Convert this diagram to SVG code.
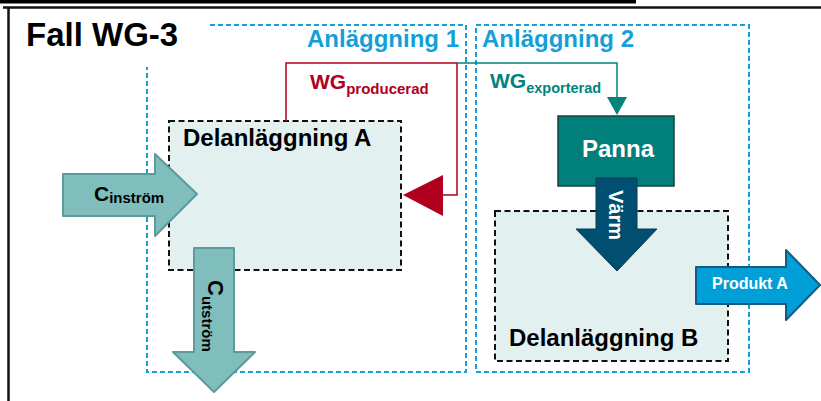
<svg xmlns="http://www.w3.org/2000/svg" width="821" height="401" viewBox="0 0 821 401">
  <style>
    text { font-family: "Liberation Sans", Arial, sans-serif; font-weight: bold; }
    .site { fill: none; stroke: #14a0d6; stroke-width: 2; stroke-dasharray: 5 3; }
    .unit { fill: #e3f0f0; stroke: #111; stroke-width: 2; stroke-dasharray: 6 3.5; }
    .carbon { fill: #80bebd; stroke: #5c9b99; stroke-width: 2; stroke-linejoin: round; }
    .siteLabel { fill: #14a0d6; font-size: 24px; }
    .unitLabel { fill: #000; font-size: 24px; }
  </style>

  <!-- frame -->
  <rect x="0" y="0" width="636" height="3.5" fill="#000"/>
  <line x1="3" y1="7.5" x2="821" y2="7.5" stroke="#111" stroke-width="2.5"/>
  <line x1="8.5" y1="7" x2="8.5" y2="401" stroke="#111" stroke-width="2.5"/>

  <text id="title" x="26" y="46" font-size="33" fill="#000">Fall WG-3</text>

  <!-- plant boundaries -->
  <g id="anlaggning1">
    <path class="site" d="M210,25 H466 V372 H147 V67"/>
    <text class="siteLabel" x="307" y="47">Anläggning 1</text>
  </g>
  <g id="anlaggning2">
    <rect class="site" x="476" y="25" width="273" height="347"/>
    <text class="siteLabel" x="482" y="47">Anläggning 2</text>
  </g>

  <!-- sub-units -->
  <g id="delanlaggningA">
    <rect class="unit" x="169" y="121" width="232" height="149"/>
    <text class="unitLabel" x="183" y="146">Delanläggning A</text>
  </g>
  <g id="delanlaggningB">
    <rect class="unit" x="495" y="211" width="233" height="150"/>
    <text class="unitLabel" x="509" y="346">Delanläggning B</text>
  </g>

  <g id="panna">
    <rect x="558" y="116" width="116" height="70" fill="#007f7b" stroke="#17403e" stroke-width="1.5"/>
    <text x="582" y="157" font-size="24" fill="#fff">Panna</text>
  </g>

  <!-- flows -->
  <g id="connectors">
    <g id="wg-producerad">
      <polyline points="286,121 286,63 457,63 457,195 443,195" fill="none" stroke="#b0001e" stroke-width="1.5"/>
      <polygon points="403,195 443,175 443,216" fill="#b0001e"/>
      <text x="310" y="89" font-size="21" fill="#b0001e">WG<tspan font-size="15" dy="5">producerad</tspan></text>
    </g>
    <g id="wg-exporterad">
      <polyline points="457,63 617,63 617,98" fill="none" stroke="#00847c" stroke-width="1.5"/>
      <polygon points="607,97 627,97 617,115" fill="#00847c"/>
      <text x="490" y="88" font-size="21" fill="#00847c">WG<tspan font-size="14.5" dy="5">exporterad</tspan></text>
    </g>
    <g id="c-instrom">
      <polygon class="carbon" points="63,174 155,174 155,154 197,194 155,236 155,216 63,216"/>
      <text x="94" y="201" font-size="21" fill="#000">C<tspan font-size="15" dy="2">inström</tspan></text>
    </g>
    <g id="c-utstrom">
      <polygon class="carbon" points="194,248 234,248 234,352 255,352 214,392 173,352 194,352"/>
      <text transform="translate(208,280) rotate(90)" font-size="22" fill="#000">C<tspan font-size="15" dy="6">utström</tspan></text>
    </g>
    <g id="varm">
      <polygon points="596,178 637,178 637,229 657,229 617,271 576,229 596,229" fill="#004f70" stroke="#0d3a52" stroke-width="1"/>
      <text transform="translate(609,190) rotate(90)" font-size="20" fill="#fff">Värm</text>
    </g>
    <g id="produktA">
      <polygon points="696,267 786,267 786,250 820,285 786,320 786,304 696,304" fill="#009fd8" stroke="#135c80" stroke-width="2" stroke-linejoin="round"/>
      <text x="712" y="289" font-size="16" fill="#fff">Produkt A</text>
    </g>
  </g>
</svg>
